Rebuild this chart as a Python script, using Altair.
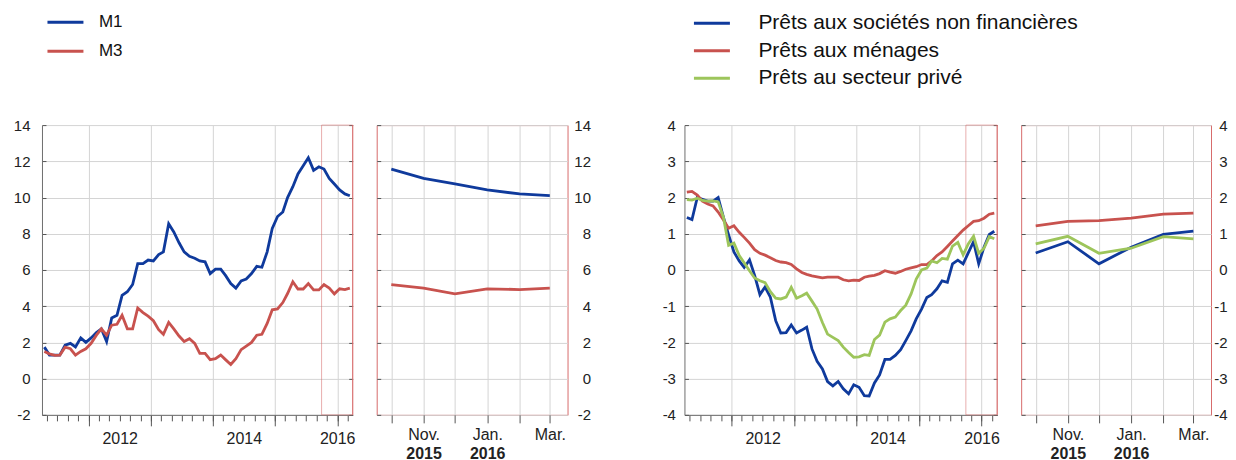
import altair as alt
import pandas as pd

FONT = "Liberation Sans"
BLUE, RED, GREEN = "#0f3a9c", "#c8524e", "#9dc55b"
FRAME = "#d76b6b"
GRID = "#d4d4d4"
AXISC = "#6e6e6e"
TICKC = "#555555"
TEXTC = "#222222"

# monthly observations, April 2011 - March 2016
MONTHS = [d.strftime("%Y-%m-%d") for d in pd.date_range("2011-04-15", periods=60, freq=pd.DateOffset(months=1))]
WINDOW = ["2015-10-01", "2016-04-01"]

MONEY_NAMES = ["M1", "M3"]
m1 = [1.74, 1.30, 1.30, 1.30, 1.85, 1.95, 1.75, 2.25, 2.00, 2.25,
      2.55, 2.75, 2.05, 3.35, 3.50, 4.60, 4.80, 5.20, 6.35, 6.35,
      6.55, 6.50, 6.85, 7.00, 8.55, 8.10, 7.50, 7.00, 6.75, 6.65,
      6.50, 6.45, 5.80, 6.05, 6.05, 5.70, 5.25, 5.00, 5.40, 5.50,
      5.80, 6.20, 6.15, 7.00, 8.30, 8.95, 9.20, 10.00, 10.60, 11.30,
      11.75, 12.20, 11.50, 11.70, 11.57, 11.06, 10.75, 10.42, 10.20, 10.10]
m3 = [1.50, 1.37, 1.28, 1.30, 1.74, 1.65, 1.30, 1.50, 1.65, 1.95,
      2.40, 2.75, 2.40, 2.95, 3.00, 3.50, 2.75, 2.75, 3.90, 3.65,
      3.45, 3.20, 2.70, 2.45, 3.10, 2.75, 2.35, 2.05, 2.20, 1.95,
      1.40, 1.40, 1.05, 1.10, 1.30, 1.05, 0.78, 1.10, 1.60, 1.80,
      2.00, 2.40, 2.45, 3.05, 3.80, 3.85, 4.20, 4.70, 5.35, 4.95,
      4.95, 5.25, 4.90, 4.90, 5.19, 5.00, 4.68, 4.96, 4.92, 5.00]

LOAN_NAMES = ["Prêts aux sociétés non financières", "Prêts aux ménages", "Prêts au secteur privé"]
nfc = [1.45, 1.39, 2.00, 1.95, 1.90, 1.90, 2.00, 1.45, 0.97, 0.50,
       0.25, 0.07, 0.28, -0.15, -0.68, -0.47, -0.75, -1.40, -1.74, -1.73,
       -1.52, -1.74, -1.66, -1.58, -2.18, -2.52, -2.73, -3.08, -3.20, -3.08,
       -3.28, -3.42, -3.17, -3.24, -3.47, -3.48, -3.12, -2.90, -2.47, -2.47,
       -2.36, -2.20, -1.95, -1.68, -1.35, -1.08, -0.76, -0.68, -0.52, -0.30,
       -0.34, 0.17, 0.27, 0.17, 0.47, 0.78, 0.17, 0.63, 0.98, 1.07]
hh = [2.15, 2.17, 2.07, 1.90, 1.82, 1.77, 1.60, 1.38, 1.15, 1.22,
      1.04, 0.90, 0.74, 0.56, 0.46, 0.41, 0.34, 0.26, 0.22, 0.20,
      0.15, 0.03, -0.07, -0.12, -0.16, -0.19, -0.22, -0.20, -0.20, -0.20,
      -0.27, -0.30, -0.28, -0.29, -0.20, -0.17, -0.15, -0.10, -0.02, -0.06,
      -0.09, -0.04, 0.02, 0.06, 0.09, 0.15, 0.15, 0.25, 0.40, 0.50,
      0.65, 0.80, 0.95, 1.10, 1.22, 1.34, 1.36, 1.43, 1.54, 1.57]
priv = [1.94, 1.93, 1.98, 1.92, 1.90, 1.91, 1.88, 1.45, 0.68, 0.74,
        0.40, 0.20, -0.02, -0.22, -0.30, -0.35, -0.60, -0.78, -0.80, -0.75,
        -0.48, -0.78, -0.71, -0.64, -0.86, -1.08, -1.45, -1.77, -1.86, -1.95,
        -2.13, -2.28, -2.41, -2.40, -2.34, -2.36, -1.92, -1.80, -1.44, -1.35,
        -1.30, -1.12, -0.97, -0.66, -0.25, 0.00, 0.05, 0.25, 0.20, 0.32,
        0.30, 0.66, 0.76, 0.42, 0.72, 0.93, 0.46, 0.60, 0.92, 0.86]


def utc(y, m, d):
    return alt.DateTime(year=y, month=m, date=d, utc=True)


BIMONTH = [utc(y, m, 1) for y in range(2011, 2017) for m in (1, 3, 5, 7, 9, 11)
           if (2011, 5) <= (y, m) <= (2016, 3)]
YEARS = [utc(y, 1, 1) for y in range(2012, 2017)]
ZOOM_TICKS = [utc(int(s[:4]), int(s[5:7]), 15) for s in MONTHS[-6:]]
ZOOM_YEAR_TICKS = [utc(2015, 11, 15), utc(2016, 1, 15)]

MAIN_LABELS = ("(utcmonth(datum.value) == 6 && utcyear(datum.value) % 2 == 0) || "
               "(utcmonth(datum.value) == 0 && utcyear(datum.value) == 2016) ? utcFormat(datum.value, '%Y') : ''")
ZOOM_LABELS = "utcmonth(datum.value) % 2 == 0 ? utcFormat(datum.value, '%b') + '.' : ''"
NUM_LABELS = "'' + datum.value"


def long_df(names, series):
    rows = []
    for name, vals in zip(names, series):
        for d, v in zip(MONTHS, vals):
            rows.append({"date": d, "serie": name, "valeur": v})
    return pd.DataFrame(rows)


def make_legend(x, y, size, offset, rowpad):
    return alt.Legend(orient="none", legendX=x, legendY=y, direction="vertical", title=None,
                      symbolType="stroke", symbolSize=1296, symbolStrokeWidth=3, clipHeight=16,
                      rowPadding=rowpad, labelOffset=offset, labelFontSize=size, labelFont=FONT,
                      labelColor="#111111", padding=0, labelLimit=600)


def ax(**kw):
    base = dict(title=None, minExtent=0)
    base.update(kw)
    return alt.Axis(**base)


def main_panel(names, series, colors, ydom, ystep, width, ylab_pad, legend):
    df = long_df(names, series)
    yvals = list(range(ydom[0], ydom[1] + 1, ystep))
    xs = alt.Scale(type="utc", domain=[utc(2011, 4, 1), utc(2016, 4, 1)])
    ys = alt.Scale(domain=ydom, nice=False, zero=False)
    color = alt.Color("serie:N", scale=alt.Scale(domain=names, range=colors), legend=legend)
    win = pd.DataFrame({"debut": [WINDOW[0]], "fin": [WINDOW[1]], "bas": [ydom[0]], "haut": [ydom[1]]})
    frame = alt.Chart(win).mark_rect(fillOpacity=0, stroke=FRAME, strokeOpacity=0.55, strokeWidth=1).encode(
        x=alt.X("debut:T", scale=xs, axis=ax(orient="bottom", values=YEARS, tickSize=11, tickColor=TICKC,
                                            labels=False, domain=False, grid=True, gridColor=GRID)),
        x2="fin:T",
        y=alt.Y("bas:Q", scale=ys, axis=ax(orient="right", offset=-width, values=yvals, tickSize=4,
                                          tickColor=TICKC, labels=False, domain=False, grid=False)),
        y2="haut:Q",
    )
    edge = alt.Chart(win).mark_rule(stroke=FRAME, strokeWidth=1).encode(
        x=alt.X("fin:T", scale=xs, axis=None),
        y=alt.Y("bas:Q", scale=ys, axis=ax(orient="left", offset=-width, values=yvals, tickSize=4,
                                          tickColor=TICKC, labels=False, domain=False, grid=False)),
        y2="haut:Q",
    )
    lines = alt.Chart(df).mark_line(strokeWidth=2.8).encode(
        x=alt.X("date:T", scale=xs, axis=ax(orient="bottom", values=BIMONTH, tickSize=6, tickColor=TICKC,
                                           domain=True, domainColor=AXISC, grid=False,
                                           labelExpr=MAIN_LABELS, labelPadding=10, labelFontSize=16,
                                           labelOverlap=False, labelFlush=False)),
        y=alt.Y("valeur:Q", scale=ys, axis=ax(orient="left", values=yvals, ticks=False, tickSize=0,
                                             domain=True, domainColor=AXISC, grid=True, gridColor=GRID,
                                             labelPadding=ylab_pad, labelExpr=NUM_LABELS)),
        color=color,
    )
    return alt.layer(frame, edge, lines).resolve_axis(x="independent", y="independent").properties(
        width=width, height=290, view=alt.ViewBackground(stroke="transparent"))


def zoom_panel(names, series, colors, ydom, ystep, width, ylab_pad):
    df = long_df(names, series)
    df = df[df["date"] >= WINDOW[0]]
    first = df[df["serie"] == names[0]]
    rest = df[df["serie"] != names[0]]
    yvals = list(range(ydom[0], ydom[1] + 1, ystep))
    xs = alt.Scale(type="utc", domain=[utc(2015, 10, 1), utc(2016, 4, 1)])
    ys = alt.Scale(domain=ydom, nice=False, zero=False)
    color = alt.Color("serie:N", scale=alt.Scale(domain=names, range=colors), legend=None)
    l1 = alt.Chart(first).mark_line(strokeWidth=2.8).encode(
        x=alt.X("date:T", scale=xs, axis=ax(orient="bottom", values=ZOOM_TICKS, tickSize=8, tickColor=TICKC,
                                           domain=False, grid=True, gridColor=GRID, labelExpr=ZOOM_LABELS,
                                           labelPadding=4, labelFontSize=16, labelOverlap=False,
                                           labelFlush=False)),
        y=alt.Y("valeur:Q", scale=ys, axis=ax(orient="right", values=yvals, ticks=False, tickSize=0,
                                             domain=False, grid=True, gridColor=GRID, labelAlign="right",
                                             labelPadding=ylab_pad, labelExpr=NUM_LABELS)),
        color=color,
    )
    l2 = alt.Chart(rest).mark_line(strokeWidth=2.8).encode(
        x=alt.X("date:T", scale=xs, axis=ax(orient="bottom", values=ZOOM_YEAR_TICKS, ticks=False, tickSize=0,
                                           domain=False, grid=False, labelExpr="utcFormat(datum.value, '%Y')",
                                           labelFontWeight="bold", labelFontSize=16, labelPadding=31,
                                           labelOverlap=False, labelFlush=False)),
        y=alt.Y("valeur:Q", scale=ys, axis=ax(orient="right", offset=-width, values=yvals, tickSize=4,
                                             tickColor=TICKC, labels=False, domain=False, grid=False)),
        color=color,
    )
    return alt.layer(l1, l2).resolve_axis(x="independent", y="independent").properties(
        width=width, height=290, view=alt.ViewBackground(stroke=FRAME, strokeWidth=1))


legA = make_legend(4, -111, 17, 14, 12)
legB = make_legend(8, -110, 21, 27, 6.5)

p1 = main_panel(MONEY_NAMES, [m1, m3], [BLUE, RED], [-2, 14], 2, 311, 12, legA)
p2 = zoom_panel(MONEY_NAMES, [m1, m3], [BLUE, RED], [-2, 14], 2, 191, 23)
p3 = main_panel(LOAN_NAMES, [nfc, hh, priv], [BLUE, RED, GREEN], [-4, 4], 1, 313, 9, legB)
p4 = zoom_panel(LOAN_NAMES, [nfc, hh, priv], [BLUE, RED, GREEN], [-4, 4], 1, 190, 16)

# empty gap between the two groups of panels
gap_df = pd.DataFrame({"fin": [WINDOW[1]]})
gap = alt.Chart(gap_df).mark_rule(strokeOpacity=0).encode(
    x=alt.X("fin:T", axis=None)
).properties(width=69, height=290, view=alt.ViewBackground(stroke="transparent"))

chart = alt.hconcat(p1, p2, gap, p3, p4, spacing=24, bounds="flush").resolve_scale(
    color="independent"
).configure_axis(
    labelFont=FONT, labelFontSize=15, labelColor=TEXTC, minExtent=0
).configure_legend(labelFont=FONT).properties(
    padding={"left": 4, "top": 5, "right": 0, "bottom": 0}
)

chart.save("out.html", embed_options={"renderer": "svg", "actions": False})
